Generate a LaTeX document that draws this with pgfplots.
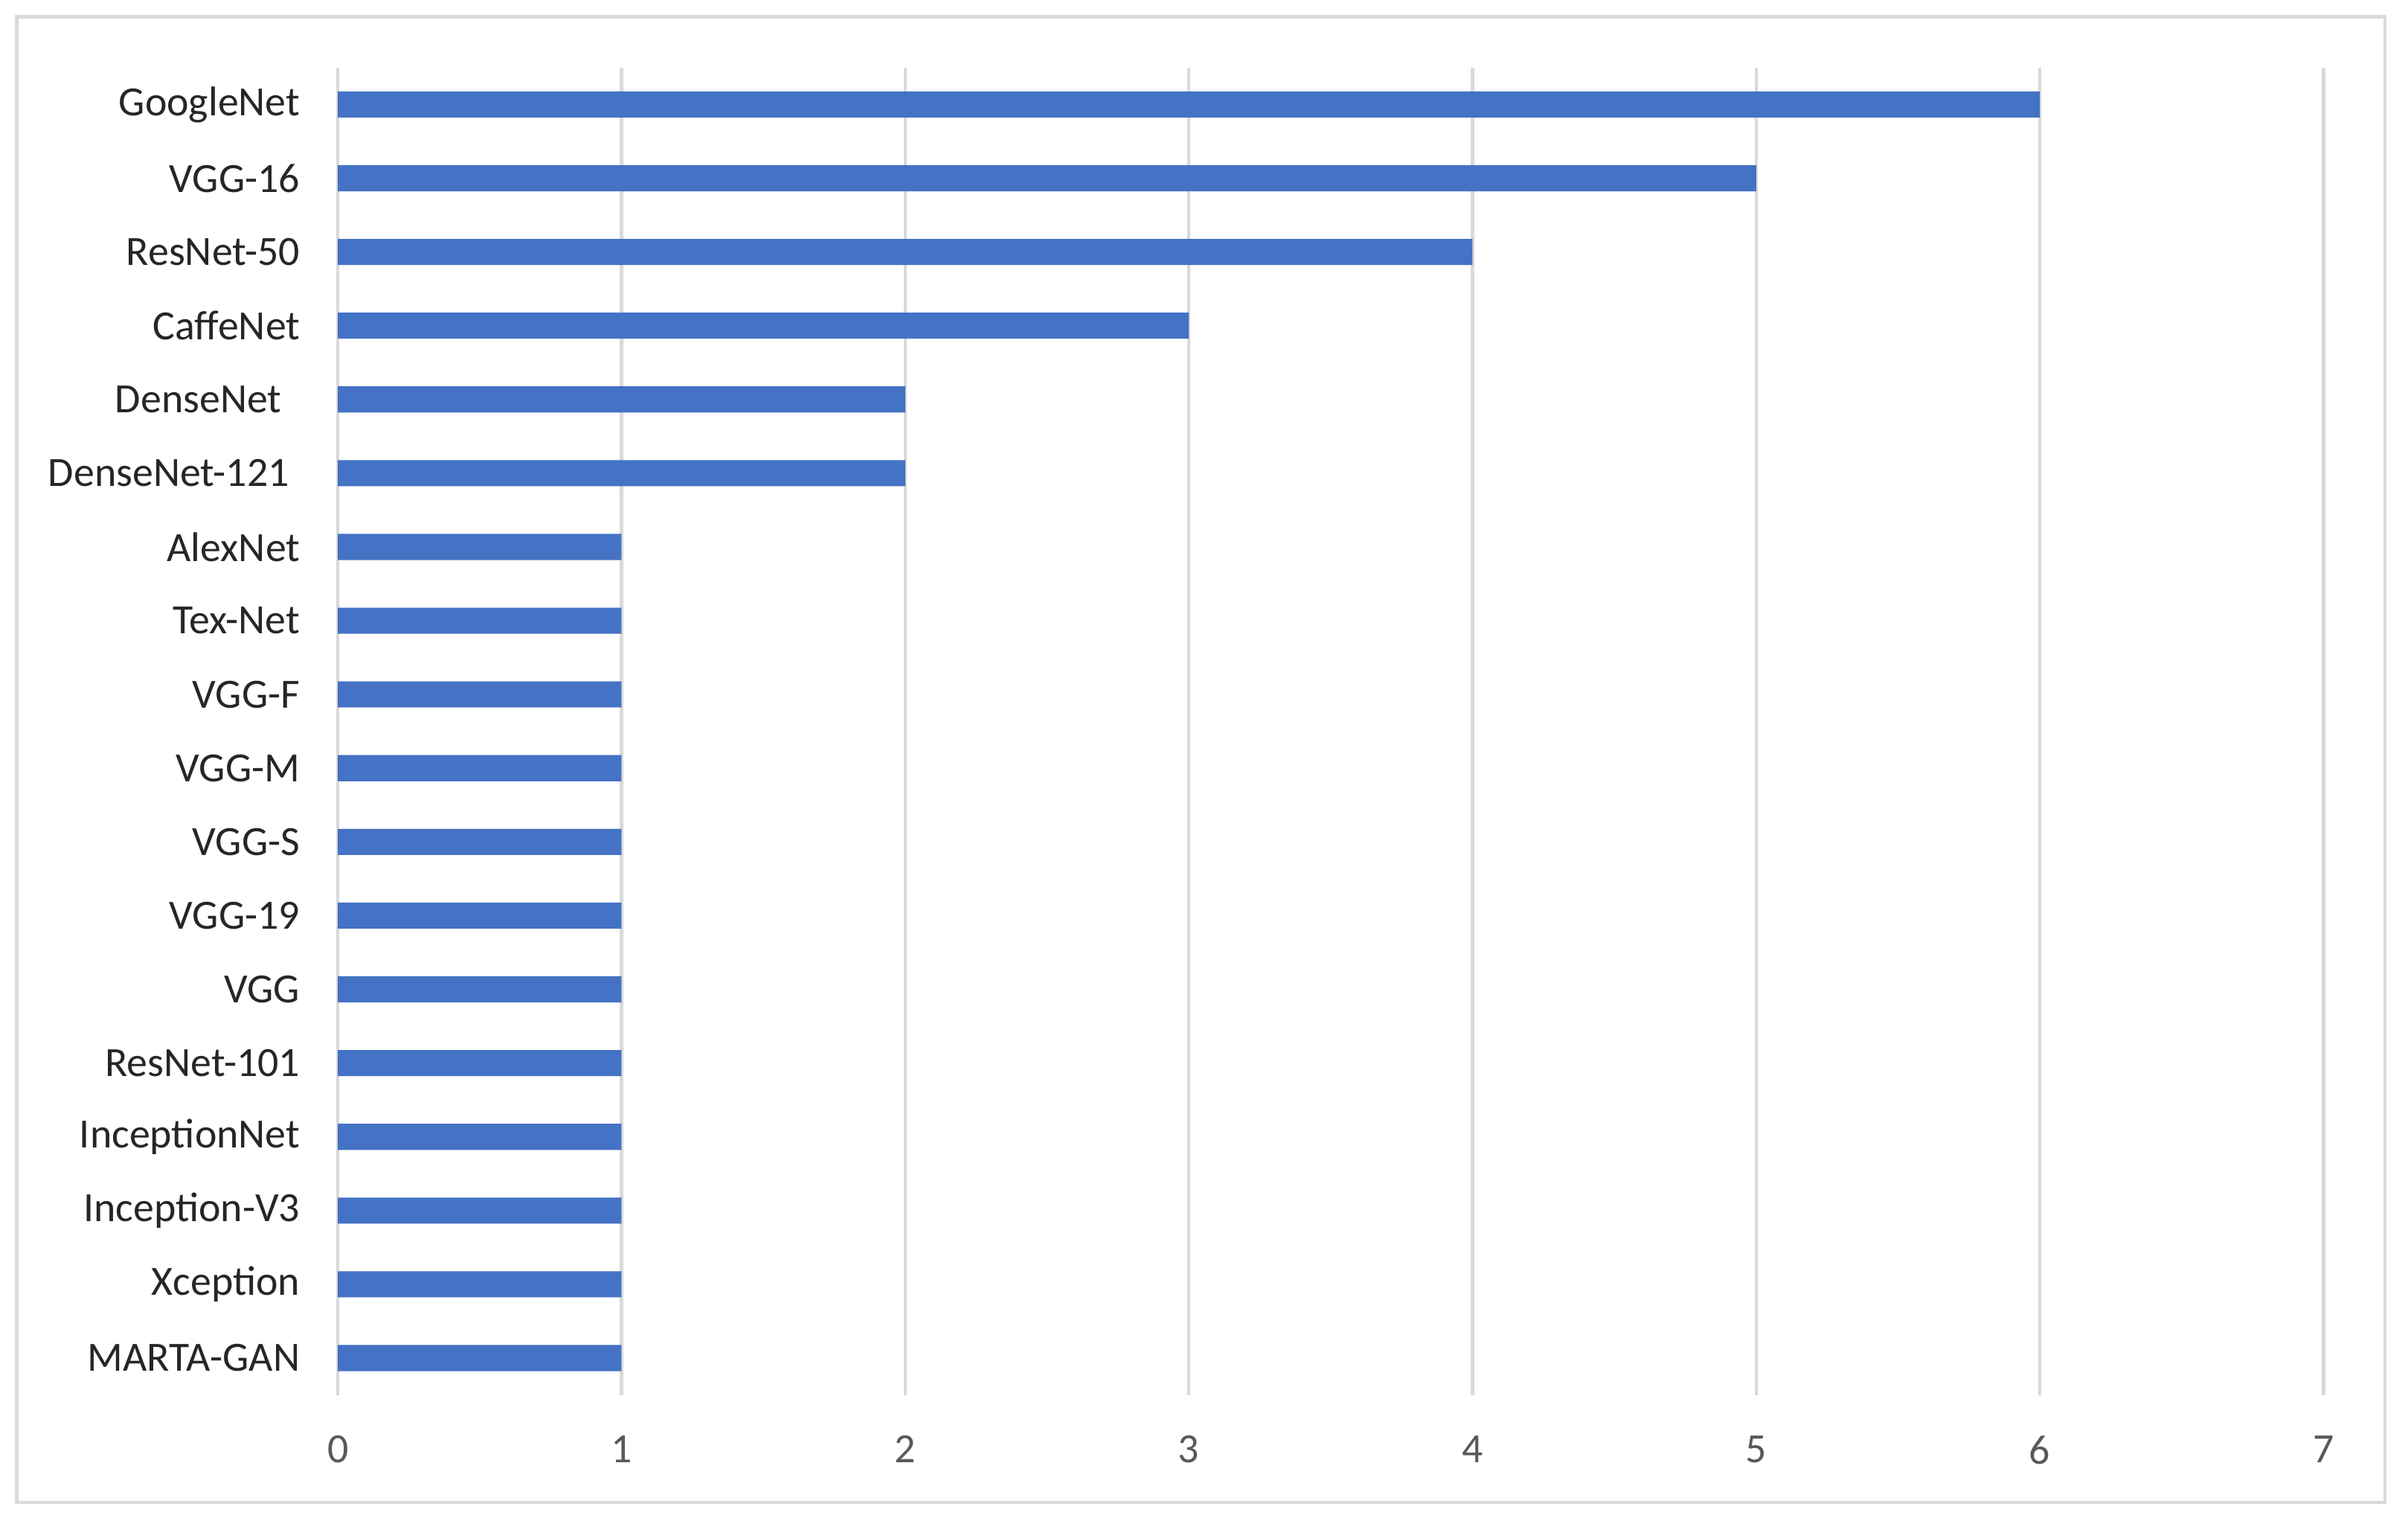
\documentclass[border=0pt]{standalone}
\usepackage{fontspec}
\setmainfont{Carlito}
\usepackage{pgfplots}
\pgfplotsset{compat=1.18}
\definecolor{barblue}{HTML}{4472C4}
\definecolor{gridgray}{HTML}{D9D9D9}
\definecolor{ticktext}{HTML}{595959}
\begin{document}
\begin{tikzpicture}[x=1mm,y=1mm]
% page and outer frame
\path[use as bounding box, fill=white] (-22,-8.4) rectangle (134.8,90.8);
\draw[gridgray, line width=0.22mm] (-20.9,-7.0) rectangle (133.3,89.7);
\begin{axis}[
  at={(0,0)}, anchor=south west,
  scale only axis,
  width=129.3mm, height=86.4mm,
  xbar, bar width=1.7mm, bar shift=0pt,
  xmin=0, xmax=7,
  ymin=-0.5, ymax=17.5,
  y dir=reverse,
  xtick={0,1,...,7},
  ytick={0,1,...,17},
  yticklabels={GoogleNet,VGG-16,ResNet-50,CaffeNet,DenseNet\kern1.2mm,DenseNet-121\kern0.7mm,AlexNet,Tex-Net,VGG-F,VGG-M,VGG-S,VGG-19,VGG,ResNet-101,InceptionNet,Inception-V3,Xception,MARTA-GAN},
  axis line style={draw=none},
  major tick length=0pt,
  xmajorgrids,
  major grid style={gridgray, line width=0.22mm},
  /pgf/number format/assume math mode=true,
  tick label style={font=\fontsize{7.7}{9}\selectfont, inner sep=0pt},
  xticklabel style={text=ticktext, yshift=-2.6mm},
  yticklabel style={text=black!85, anchor=east, xshift=-2.4mm},
  clip=false
]
\addplot[draw=none, fill=barblue] coordinates {
  (6,0) (5,1) (4,2) (3,3) (2,4) (2,5) (1,6) (1,7) (1,8)
  (1,9) (1,10) (1,11) (1,12) (1,13) (1,14) (1,15) (1,16) (1,17)
};
\end{axis}
\end{tikzpicture}
\end{document}
